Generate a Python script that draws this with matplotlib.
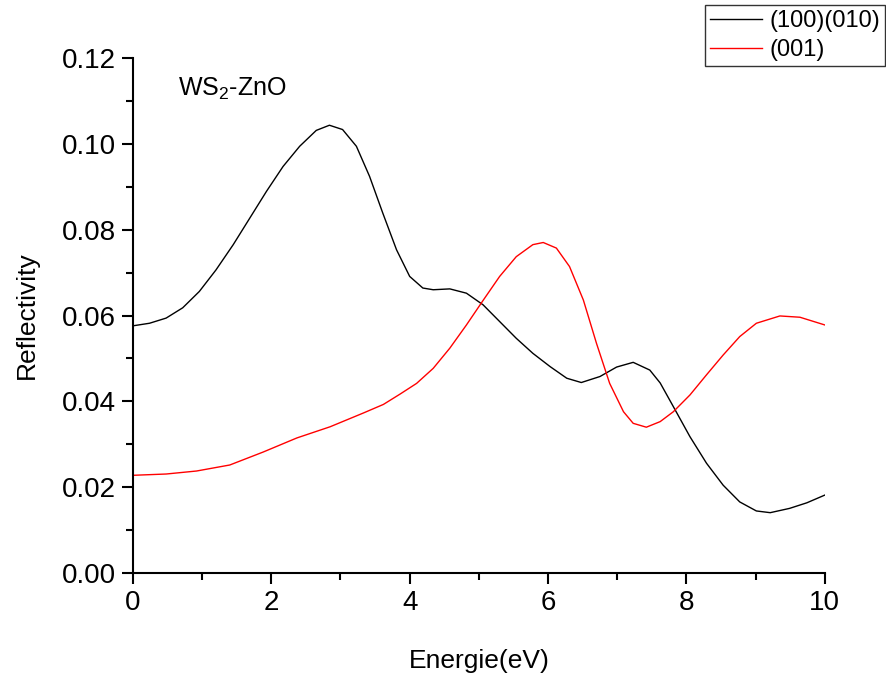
import matplotlib.pyplot as plt
from matplotlib.ticker import MultipleLocator

plt.rcParams['font.family'] = ['Liberation Sans', 'DejaVu Sans']

# courbe (100)(010)
x_noir = [0.0, 0.24, 0.48, 0.72, 0.96, 1.20, 1.45, 1.69, 1.93, 2.17, 2.41, 2.65, 2.84, 3.03,
          3.23, 3.42, 3.61, 3.81, 4.00, 4.19, 4.34, 4.58, 4.82, 5.06, 5.30, 5.54, 5.78, 6.03,
          6.27, 6.48, 6.75, 6.99, 7.23, 7.47, 7.62, 7.81, 8.05, 8.29, 8.53, 8.77, 9.01, 9.21,
          9.49, 9.74, 10.0]
y_noir = [0.0576, 0.0582, 0.0594, 0.0618, 0.0656, 0.0706, 0.0765, 0.0827, 0.0889, 0.0947,
          0.0994, 0.1031, 0.1043, 0.1033, 0.0994, 0.0924, 0.0839, 0.0753, 0.0691, 0.0664,
          0.0660, 0.0662, 0.0652, 0.0625, 0.0586, 0.0547, 0.0512, 0.0481, 0.0454, 0.0444,
          0.0458, 0.0480, 0.0491, 0.0473, 0.0443, 0.0388, 0.0318, 0.0256, 0.0205, 0.0166,
          0.0145, 0.0141, 0.0151, 0.0164, 0.0182]

# courbe (001)
x_rouge = [0.0, 0.48, 0.92, 1.40, 1.88, 2.37, 2.85, 3.33, 3.62, 3.86, 4.10, 4.34, 4.58, 4.82,
           5.06, 5.30, 5.54, 5.78, 5.93, 6.12, 6.31, 6.51, 6.70, 6.89, 7.09, 7.23, 7.42, 7.62,
           7.81, 8.05, 8.29, 8.53, 8.77, 9.01, 9.35, 9.64, 10.0]
y_rouge = [0.0228, 0.0231, 0.0238, 0.0252, 0.0282, 0.0315, 0.0341, 0.0373, 0.0393, 0.0417,
           0.0442, 0.0477, 0.0524, 0.0578, 0.0635, 0.0691, 0.0737, 0.0765, 0.0770, 0.0757,
           0.0714, 0.0636, 0.0535, 0.0442, 0.0376, 0.0349, 0.0340, 0.0353, 0.0376, 0.0415,
           0.0462, 0.0508, 0.0551, 0.0582, 0.0599, 0.0596, 0.0578]

fig = plt.figure(figsize=(8.86, 6.8), dpi=100)
ax = fig.add_axes([0.150, 0.157, 0.781, 0.758])

ax.plot(x_noir, y_noir, color='black', lw=1.0, label='(100)(010)')
ax.plot(x_rouge, y_rouge, color='red', lw=1.0, label='(001)')

ax.set_xlim(0, 10)
ax.set_ylim(0, 0.12)
ax.xaxis.set_major_locator(MultipleLocator(2))
ax.xaxis.set_minor_locator(MultipleLocator(1))
ax.yaxis.set_major_locator(MultipleLocator(0.02))
ax.yaxis.set_minor_locator(MultipleLocator(0.01))
ax.yaxis.set_major_formatter(lambda v, p: f"{v:.2f}")

for s in ['top', 'right']:
    ax.spines[s].set_visible(False)
for s in ['left', 'bottom']:
    ax.spines[s].set_linewidth(1.5)

ax.tick_params(which='major', direction='out', length=8, width=1.5, labelsize=20, pad=4)
ax.tick_params(which='minor', direction='out', length=5, width=1.5)

ax.set_xlabel('Energie(eV)', fontsize=19, labelpad=24)
ax.set_ylabel('Reflectivity', fontsize=19, labelpad=17)

ax.text(0.065, 0.965, 'WS$_\\mathregular{2}$-ZnO', transform=ax.transAxes, fontsize=18, va='top')

leg = fig.legend(loc='upper right', bbox_to_anchor=(0.999, 0.993), fontsize=17, frameon=True,
                 fancybox=False, edgecolor='black', handlelength=2.2, borderpad=0.22,
                 labelspacing=0.3, handletextpad=0.3, borderaxespad=0)
leg.get_frame().set_linewidth(1.0)

fig.savefig('out.png', dpi=100)
